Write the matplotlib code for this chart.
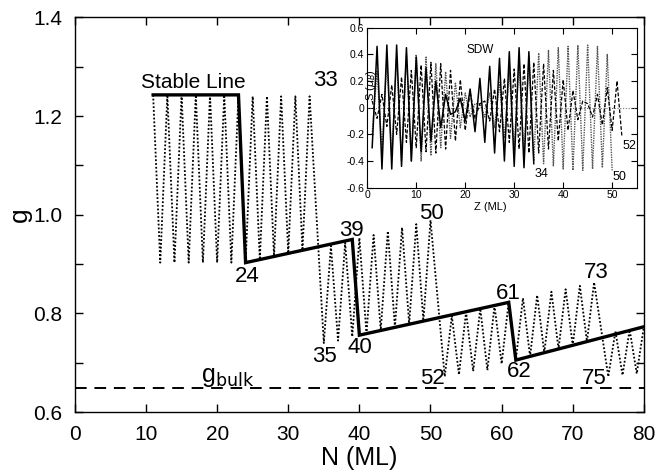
import matplotlib
matplotlib.use('Agg')
import matplotlib.pyplot as plt
from matplotlib.ticker import MultipleLocator, FixedLocator

plt.rcParams['font.family'] = ['Liberation Sans', 'DejaVu Sans']

# stable line (thick solid)
stable_n = [11, 23, 24, 39, 40, 61, 62, 80]
stable_g = [1.243, 1.243, 0.903, 0.950, 0.756, 0.8225, 0.7055, 0.773]

# zig-zag dotted curve, vertices
zig_n = [11, 12, 13, 14, 15, 16, 17, 18, 19, 20, 21, 22, 23, 24, 25, 26, 27, 28,
         29, 30, 31, 32, 33, 35, 36, 37, 38, 39, 40, 41, 42, 43, 44, 45, 46, 47,
         48, 49, 50, 52, 53, 54, 55, 56, 57, 58, 59, 60, 61, 62, 63, 64, 65, 66,
         67, 68, 69, 70, 71, 72, 73, 75, 76, 77, 78, 79, 80]
zig_g = [1.243, 0.903, 1.243, 0.903, 1.243, 0.903, 1.243, 0.903, 1.243, 0.903,
         1.243, 0.903, 1.243, 0.903, 1.240, 0.909, 1.240, 0.916, 1.240, 0.922,
         1.240, 0.928, 1.240, 0.740, 0.937, 0.745, 0.943, 0.753, 0.953, 0.759,
         0.959, 0.766, 0.967, 0.772, 0.974, 0.779, 0.981, 0.785, 0.989, 0.672,
         0.795, 0.676, 0.803, 0.683, 0.810, 0.685, 0.816, 0.698, 0.824, 0.706,
         0.831, 0.713, 0.837, 0.720, 0.844, 0.728, 0.849, 0.735, 0.856, 0.743,
         0.863, 0.672, 0.764, 0.675, 0.767, 0.678, 0.773]

g_bulk = 0.649

# point labels on the main plot: (text, N, g)
main_labels = [("24", 24.2, 0.874), ("39", 38.9, 0.969), ("40", 40.1, 0.730),
               ("35", 35.1, 0.712), ("33", 35.3, 1.272), ("50", 50.2, 1.003),
               ("61", 61.0, 0.840), ("62", 62.5, 0.683), ("52", 50.3, 0.668),
               ("73", 73.3, 0.883), ("75", 73.0, 0.668)]

# inset: spin density wave profiles S(z) for N = 34, 50, 52
s34 = [-0.30, 0.46, -0.46, 0.47, -0.46, 0.47, -0.44, 0.45, -0.40, 0.38, -0.33,
       0.30, -0.25, 0.20, -0.15, 0.10, -0.05, -0.03, 0.07, -0.10, 0.14, -0.18,
       0.22, -0.26, 0.31, -0.34, 0.37, -0.40, 0.42, -0.44, 0.45, -0.45, 0.42,
       -0.42]
s50 = [-0.20, 0.28, -0.32, 0.35, -0.37, 0.38, -0.40, 0.40, -0.40, 0.40, -0.40,
       0.38, -0.36, 0.33, -0.30, 0.27, -0.23, 0.19, -0.15, 0.11, -0.07, 0.03,
       0.03, -0.07, 0.11, -0.15, 0.19, -0.23, 0.27, -0.30, 0.33, -0.36, 0.38,
       -0.40, 0.41, -0.42, 0.43, -0.44, 0.45, -0.46, 0.46, -0.47, 0.47, -0.47,
       0.47, -0.46, 0.46, -0.45, 0.40, -0.47]
s52 = [0.05, -0.08, 0.10, -0.14, 0.17, -0.20, 0.23, -0.26, 0.28, -0.30, 0.32,
       -0.33, 0.34, -0.34, 0.33, -0.31, 0.28, -0.25, 0.21, -0.17, 0.12, -0.08,
       0.03, 0.05, -0.10, 0.14, -0.18, 0.22, -0.26, 0.29, -0.31, 0.33, -0.34,
       0.34, -0.34, 0.33, -0.31, 0.28, -0.25, 0.21, -0.17, 0.13, -0.09, 0.05,
       0.03, -0.07, 0.10, -0.13, 0.15, -0.17, 0.20, -0.22]

fig = plt.figure(figsize=(6.57, 4.71), dpi=100)
ax = fig.add_axes([0.114, 0.125, 0.866, 0.838])

ax.plot(zig_n, zig_g, color='black', lw=1.3, linestyle=(0, (1, 1.1)))
ax.plot(stable_n, stable_g, color='black', lw=2.4, solid_joinstyle='miter')
ax.axhline(g_bulk, color='black', lw=1.4, linestyle=(0, (6, 4)))

ax.set_xlim(0, 80)
ax.set_ylim(0.6, 1.4)
ax.xaxis.set_major_locator(MultipleLocator(10))
ax.yaxis.set_major_locator(MultipleLocator(0.2))
ax.yaxis.set_minor_locator(MultipleLocator(0.1))
ax.yaxis.set_major_formatter(plt.FuncFormatter(lambda v, p: f"{v:.1f}"))
ax.tick_params(which='both', direction='in', top=True, right=True,
               length=6, width=1, labelsize=15)
ax.tick_params(axis='y', pad=9)
ax.tick_params(axis='x', pad=9)
for sp in ax.spines.values():
    sp.set_linewidth(1.0)

ax.set_xlabel("N (ML)", fontsize=18, labelpad=2)
ax.set_ylabel("g", fontsize=19)
ax.yaxis.set_label_coords(-0.075, 0.5)

ax.text(16.6, 1.268, "Stable Line", fontsize=15, ha='center', va='center')
for txt, n, g in main_labels:
    ax.text(n, g, txt, fontsize=16, ha='center', va='center')
ax.text(17.7, 0.671, r"g$_{\rm bulk}$", fontsize=18, ha='left', va='center')

# inset
ins = fig.add_axes([0.559, 0.6015, 0.410, 0.3397])
z34 = list(range(1, len(s34) + 1))
z50 = list(range(1, len(s50) + 1))
z52 = list(range(1, len(s52) + 1))
ins.axhline(0, color='#777777', lw=0.8, linestyle=(0, (1, 1.5)))
ins.plot(z50, s50, color='#555555', lw=1.0, linestyle=(0, (1, 0.8)))
ins.plot(z52, s52, color='black', lw=0.9, linestyle=(0, (3, 1.5)))
ins.plot(z34, s34, color='black', lw=1.1)
ins.set_xlim(0, 55)
ins.set_ylim(-0.6, 0.6)
ins.xaxis.set_major_locator(FixedLocator([0, 10, 20, 30, 40, 50]))
ins.yaxis.set_major_locator(FixedLocator([-0.6, -0.4, -0.2, 0, 0.2, 0.4, 0.6]))
ins.yaxis.set_major_formatter(plt.FuncFormatter(
    lambda v, p: "0" if abs(v) < 1e-9 else f"{v:.1f}"))
ins.tick_params(which='both', direction='in', top=True, right=True,
                length=4, width=0.8, labelsize=7.5, pad=2)
ins.set_xlabel("Z (ML)", fontsize=8, labelpad=0)
ins.xaxis.set_label_coords(0.455, -0.09)
ins.set_ylabel(r"S ($\mu_B$)", fontsize=8)
ins.yaxis.set_label_coords(0.04, 0.64)
ins.text(23, 0.43, "SDW", fontsize=8.5, ha='center', va='center')
ins.text(35.5, -0.5, "34", fontsize=9, ha='center', va='center')
ins.text(51.5, -0.52, "50", fontsize=9, ha='center', va='center')
ins.text(53.5, -0.29, "52", fontsize=9, ha='center', va='center')

fig.savefig("out.png", dpi=100)
